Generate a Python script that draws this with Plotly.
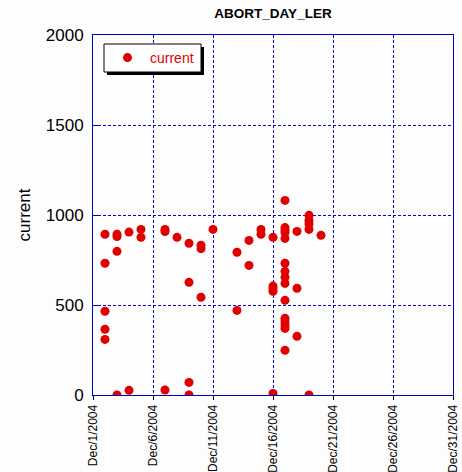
import plotly.graph_objects as go

dates = (
    ["2004-12-02"] * 5 + ["2004-12-03"] * 4 + ["2004-12-04"] * 2 + ["2004-12-05"] * 2 +
    ["2004-12-07"] * 3 + ["2004-12-08"] * 1 + ["2004-12-09"] * 4 + ["2004-12-10"] * 3 +
    ["2004-12-11"] * 1 + ["2004-12-13"] * 2 + ["2004-12-14"] * 2 + ["2004-12-15"] * 2 +
    ["2004-12-16"] * 5 + ["2004-12-17"] * 15 + ["2004-12-18"] * 3 + ["2004-12-19"] * 5 +
    ["2004-12-20"] * 1
)
current = [
    893, 732, 465, 365, 309,
    893, 880, 798, 0,
    905, 26,
    920, 876,
    920, 908, 28,
    876,
    843, 626, 70, 0,
    832, 813, 543,
    920,
    793, 470,
    859, 720,
    920, 893,
    876, 605, 590, 576, 9,
    1081, 930, 915, 902, 870, 732, 687, 654, 620, 526, 426, 407, 389, 370, 248,
    909, 593, 326,
    998, 970, 950, 920, 0,
    887,
]
tick_vals = ["2004-12-01", "2004-12-06", "2004-12-11", "2004-12-16", "2004-12-21", "2004-12-26", "2004-12-31"]
tick_text = ["Dec/1/2004", "Dec/6/2004", "Dec/11/2004", "Dec/16/2004", "Dec/21/2004", "Dec/26/2004", "Dec/31/2004"]
y_ticks = [0, 500, 1000, 1500, 2000]

RED = "#e00000"
BLUE = "#0000c0"
GRID = "#0000e0"
FONT = "Arial, Liberation Sans"

# plot area in pixels: x 93..453, y 35..395
def px(x):
    return (x - 93) / 360

def py(y):
    return (395 - y) / 360

fig = go.Figure()
fig.add_trace(go.Scatter(
    x=dates, y=current, mode="markers", name="current",
    marker=dict(color=RED, size=9, symbol="circle"),
))

fig.update_layout(
    width=462, height=472,
    margin=dict(l=93, r=9, t=35, b=77),
    paper_bgcolor="#fdfdfd", plot_bgcolor="#fdfdfd",
    title=dict(text="<b>ABORT_DAY_LER</b>", x=273 / 462, xanchor="center", y=1 - 13 / 472, yanchor="middle",
               font=dict(family=FONT, size=13.5, color="black")),
    showlegend=True,
    legend=dict(x=px(105), y=py(58), xanchor="left", yanchor="middle", bgcolor="rgba(0,0,0,0)",
                borderwidth=0, itemwidth=35,
                font=dict(family=FONT, size=14, color=RED)),
    font=dict(family=FONT, color="black"),
)
fig.update_xaxes(
    type="date", range=["2004-12-01", "2004-12-31"], automargin=False,
    tickvals=tick_vals, ticktext=tick_text, tickangle=-90,
    tickfont=dict(family=FONT, size=12, color="black"),
    showgrid=True, gridcolor=GRID, griddash="3px,2px", gridwidth=1,
    showline=True, linecolor=BLUE, linewidth=1, mirror=True,
    ticks="outside", ticklen=4, tickcolor="black", zeroline=False,
)
fig.update_yaxes(
    range=[0, 2000], tickvals=y_ticks, automargin=False,
    tickfont=dict(family=FONT, size=17, color="black"),
    title=dict(text="current", font=dict(family=FONT, size=17, color="black"), standoff=10),
    showgrid=True, gridcolor=GRID, griddash="3px,2px", gridwidth=1,
    showline=True, linecolor=BLUE, linewidth=1, mirror=True,
    ticks="inside", ticklen=5, tickcolor=BLUE, ticklabelstandoff=5, zeroline=False,
)
# legend box with drop shadow
fig.add_shape(type="rect", xref="paper", yref="paper",
              x0=px(107), x1=px(204), y0=py(75), y1=py(47),
              fillcolor="black", line=dict(width=0), layer="above")
fig.add_shape(type="rect", xref="paper", yref="paper",
              x0=px(104), x1=px(201), y0=py(72), y1=py(44),
              fillcolor="white", line=dict(color="black", width=1), layer="above")

fig.write_html("out.html", config={"displayModeBar": False},
               post_script="document.body.style.margin='0';document.body.style.overflow='hidden';")
